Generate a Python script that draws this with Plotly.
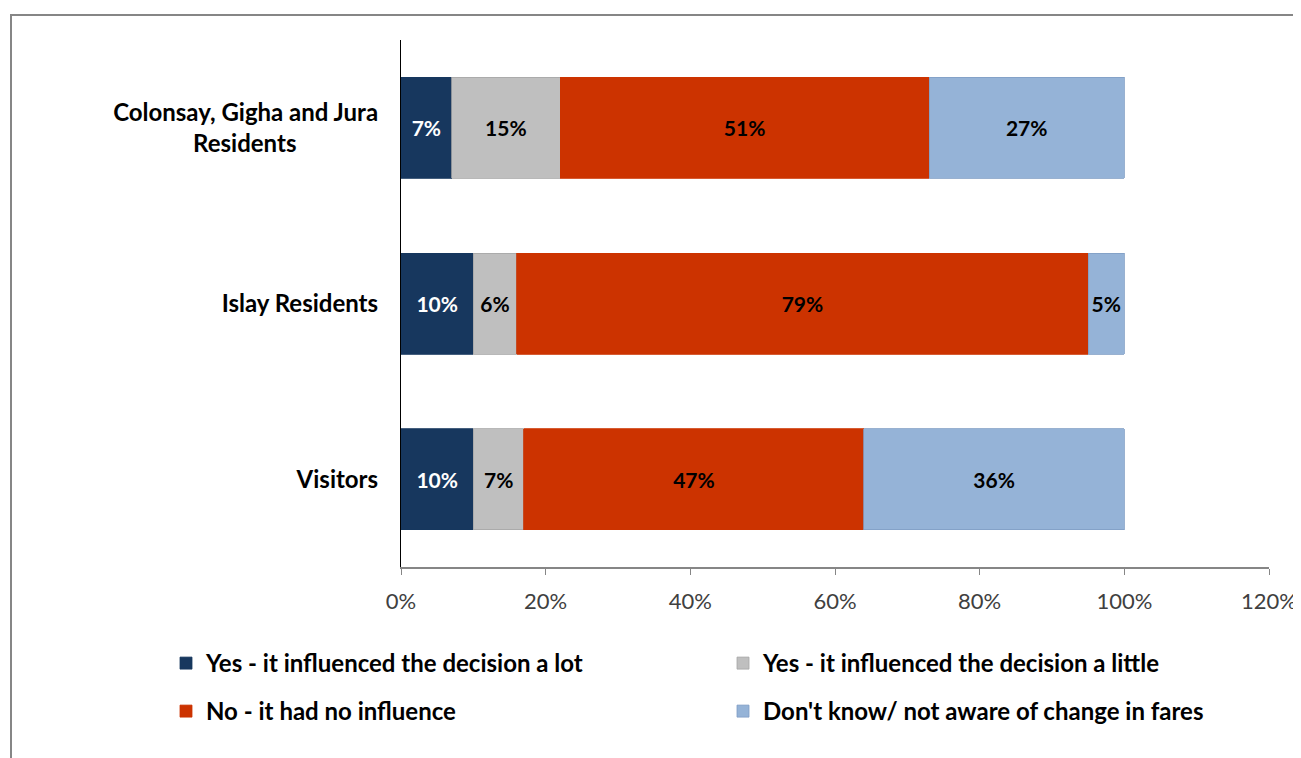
import plotly.graph_objects as go

categories = ["Colonsay, Gigha and Jura Residents", "Islay Residents", "Visitors"]
category_labels = [
    "Colonsay, Gigha and Jura<br>Residents" + "\u00a0" * 14,
    "Islay Residents",
    "Visitors",
]
series_names = [
    "Yes - it influenced the decision a lot",
    "Yes - it influenced the decision a little",
    "No - it had no influence",
    "Don't know/ not aware of change in fares",
]
yes_lot = [7, 10, 10]
yes_little = [15, 6, 7]
no_influence = [51, 79, 47]
dont_know = [27, 5, 36]
tick_vals = [0, 20, 40, 60, 80, 100, 120]
tick_text = ["0%", "20%", "40%", "60%", "80%", "100%", "120%"]

colors = ["#17375E", "#BFBFBF", "#CC3300", "#95B3D7"]
line_colors = ["#17375E", "#A6A6A6", "#CC3300", "#7F9DC4"]
label_colors = ["white", "black", "black", "black"]
legends = ["legend", "legend", "legend2", "legend2"]

FONT = "Lato, 'Open Sans', sans-serif"

fig = go.Figure()
for name, vals, c, lc, tc, lg in zip(series_names, [yes_lot, yes_little, no_influence, dont_know],
                                   colors, line_colors, label_colors, legends):
    fig.add_trace(go.Bar(
        y=categories, x=vals, name=name, orientation="h",
        marker=dict(color=c, line=dict(color=lc, width=0.8)),
        text=[f"{v}%" for v in vals], textposition="inside", insidetextanchor="middle",
        textfont=dict(color=tc, size=21, family=FONT, weight="bold"),
        textangle=0, constraintext="none",
        legend=lg,
    ))

# the page body has an 8px margin: work in reference pixel coordinates, shift by OFF
OFF = 8
W, H = 1301 - OFF, 758 - OFF
PL, PR, PT, PB = 401, 1269, 40, 567  # plot area in reference coords
L, T = PL - OFF, PT - OFF
R, B = W - (PR - OFF), H - (PB - OFF)
pw, ph = PR - PL, PB - PT

def px_x(x):
    return (x - PL) / pw

def px_y(y):
    return (PB - y) / ph

leg_common = dict(orientation="h", xanchor="left", yanchor="top",
                  entrywidth=512, entrywidthmode="pixels", traceorder="normal",
                  font=dict(size=24, family=FONT, weight="bold", color="black"),
                  itemwidth=30, bgcolor="rgba(0,0,0,0)")

fig.update_layout(
    width=W, height=H,
    barmode="stack", bargap=0.425,
    plot_bgcolor="white", paper_bgcolor="white",
    margin=dict(l=L, r=R, t=T, b=B, autoexpand=False),
    font=dict(family=FONT, color="black"),
    xaxis=dict(range=[0, 120], tickvals=tick_vals, ticktext=tick_text,
               showgrid=False, zeroline=False, showline=True, linecolor="#868686", linewidth=1.5,
               ticks="outside", ticklen=6, tickcolor="#868686", ticklabelstandoff=8,
               tickfont=dict(size=22, color="#404040", family=FONT), fixedrange=True),
    yaxis=dict(autorange="reversed", showgrid=False, zeroline=False, showline=True,
               linecolor="black", linewidth=1.2, ticks="", ticklabelstandoff=17,
               tickmode="array", tickvals=categories, ticktext=category_labels,
               tickfont=dict(size=24, color="black", family=FONT, weight="bold")),
    legend=dict(x=px_x(166), y=px_y(641), **leg_common),
    legend2=dict(x=px_x(166), y=px_y(689), **leg_common),
    shapes=[dict(type="rect", xref="paper", yref="paper",
                 x0=px_x(11), x1=px_x(1330), y0=px_y(780), y1=px_y(15),
                 line=dict(color="#868686", width=2), fillcolor="rgba(0,0,0,0)", layer="below")],
)

fig.write_html("out.html")
